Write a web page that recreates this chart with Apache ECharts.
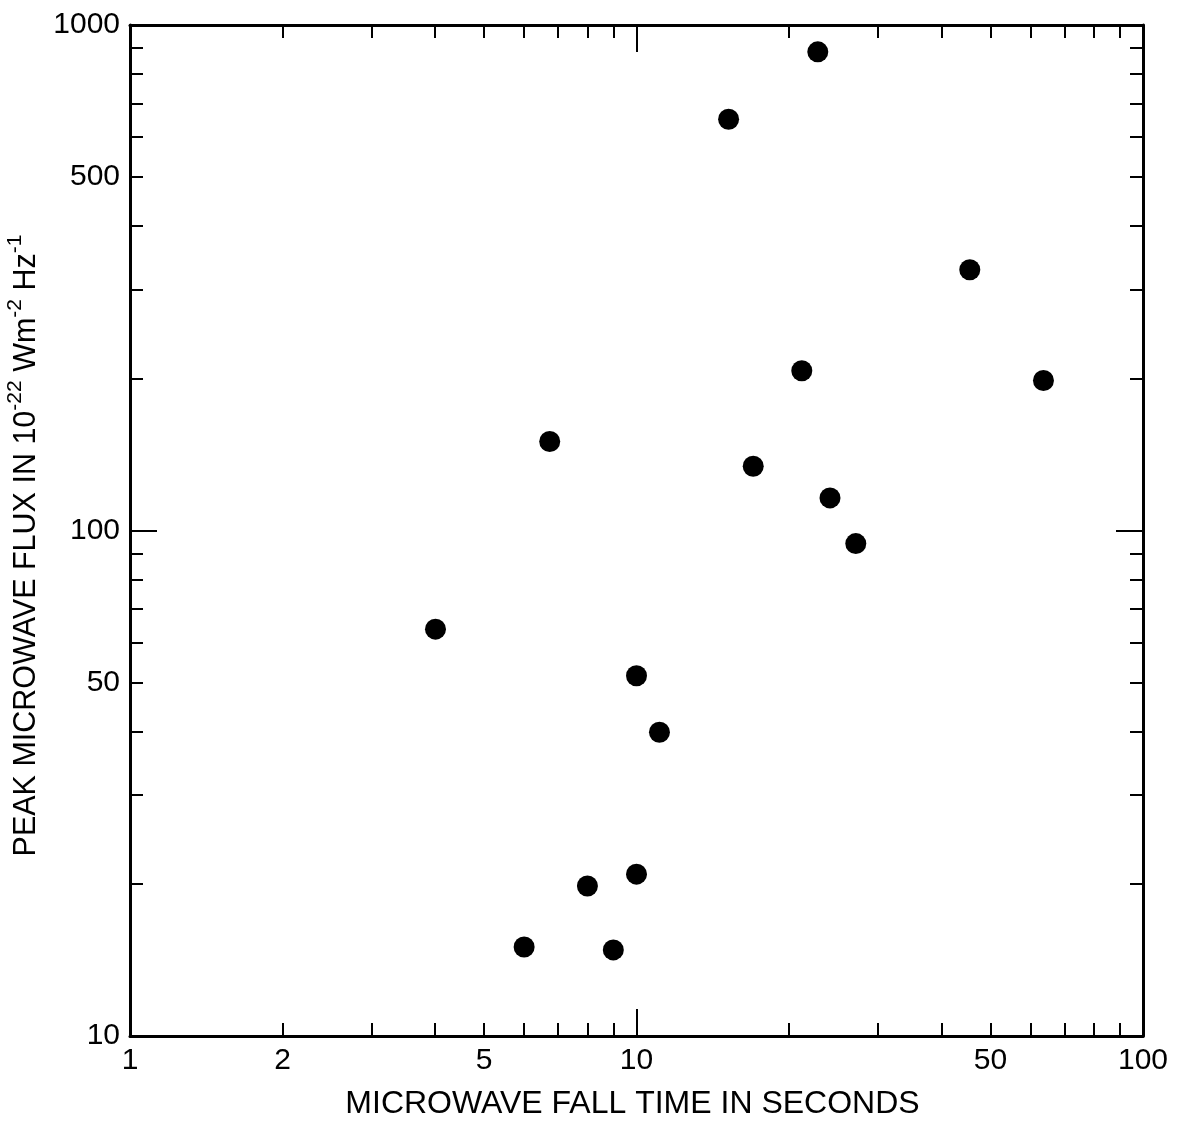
<!DOCTYPE html>
<html>
<head>
<meta charset="utf-8">
<title>Peak microwave flux vs. fall time</title>
<script src="https://cdn.jsdelivr.net/npm/echarts@6/dist/echarts.min.js"></script>
<style>
  html, body { margin: 0; padding: 0; background: #ffffff; }
  #chart { width: 1181px; height: 1123px; }
</style>
</head>
<body>
<div id="chart"></div>
<script>
// Microwave fall time (s) and peak microwave flux (10^-22 W m^-2 Hz^-1) per burst
const fallTime = [22.8, 15.2, 45.5, 21.2, 63.6, 6.74, 17.0, 24.1, 27.1, 4.01, 10.0, 11.1, 8.0, 10.0, 6.0, 9.0];
const peakFlux = [885, 651, 328, 207, 198, 150, 134, 116, 94.2, 63.8, 51.6, 39.9, 19.8, 20.9, 15.0, 14.8];

// Tick positions and labels on the two log axes
const xLabelValues = [1, 2, 5, 10, 50, 100];
const xMinorTickValues = [2, 3, 4, 5, 6, 7, 8, 9, 20, 30, 40, 50, 60, 70, 80, 90];
const xDecadeTickValues = [10];
const yLabelValues = [10, 50, 100, 500, 1000];
const yMinorTickValues = [20, 30, 40, 50, 60, 70, 80, 90, 200, 300, 400, 500, 600, 700, 800, 900];
const yDecadeTickValues = [100];

const FONT = '"Liberation Sans", Arial, Helvetica, sans-serif';
const INK = '#000000';

const points = fallTime.map((t, i) => [t, peakFlux[i]]);

function fmt(v) { return String(+Number(v).toPrecision(3)); }

function logAxis(opts) {
  const isX = opts.dim === 'x';
  return {
    type: 'log',
    logBase: 10,
    min: isX ? 1 : 10,
    max: isX ? 100 : 1000,
    position: opts.position,
    gridIndex: 0,
    splitLine: { show: false },
    minorTick: { show: false },
    minorSplitLine: { show: false },
    axisLine: { show: opts.line, onZero: false, lineStyle: { color: INK, width: 3 } },
    axisTick: {
      show: true,
      inside: true,
      length: opts.tickLength,
      customValues: opts.ticks,
      lineStyle: { color: INK, width: 2 }
    },
    axisLabel: opts.labels ? {
      show: true,
      customValues: opts.labels,
      formatter: fmt,
      color: INK,
      fontFamily: FONT,
      fontSize: 30,
      margin: 10,
      showMinLabel: true,
      showMaxLabel: true,
      hideOverlap: false
    } : { show: false },
    name: opts.name || '',
    nameLocation: 'middle',
    nameGap: opts.nameGap || 0,
    nameTextStyle: opts.nameTextStyle || {}
  };
}

const chart = echarts.init(document.getElementById('chart'), null, { renderer: 'canvas' });

chart.setOption({
  backgroundColor: '#ffffff',
  animation: false,
  grid: { left: 130, right: 38, top: 25, bottom: 87, containLabel: false, outerBoundsMode: 'none' },
  xAxis: [
    logAxis({
      dim: 'x', position: 'bottom', line: true, tickLength: 13,
      ticks: xMinorTickValues, labels: xLabelValues,
      name: 'MICROWAVE FALL TIME IN SECONDS',
      nameGap: 52,
      nameTextStyle: { color: INK, fontFamily: FONT, fontSize: 32, verticalAlign: 'top', padding: [0, 8, 0, 0] }
    }),
    logAxis({ dim: 'x', position: 'bottom', line: false, tickLength: 27, ticks: xDecadeTickValues }),
    logAxis({ dim: 'x', position: 'top', line: true, tickLength: 13, ticks: xMinorTickValues }),
    logAxis({ dim: 'x', position: 'top', line: false, tickLength: 27, ticks: xDecadeTickValues })
  ],
  yAxis: [
    logAxis({
      dim: 'y', position: 'left', line: true, tickLength: 13,
      ticks: yMinorTickValues, labels: yLabelValues,
      name: '{n|PEAK MICROWAVE FLUX IN 10}{s|-22}{n| Wm}{s|-2}{n| Hz}{s|-1}',
      nameGap: 88,
      nameTextStyle: {
        color: INK,
        padding: [0, 30, 0, 0],
        rich: {
          n: { fontFamily: FONT, fontSize: 30.5, color: INK, lineHeight: 37, verticalAlign: 'bottom' },
          s: { fontFamily: FONT, fontSize: 21, color: INK, lineHeight: 37, verticalAlign: 'top' }
        }
      }
    }),
    logAxis({ dim: 'y', position: 'left', line: false, tickLength: 27, ticks: yDecadeTickValues }),
    logAxis({ dim: 'y', position: 'right', line: true, tickLength: 13, ticks: yMinorTickValues }),
    logAxis({ dim: 'y', position: 'right', line: false, tickLength: 27, ticks: yDecadeTickValues })
  ],
  series: [{
    type: 'scatter',
    xAxisIndex: 0,
    yAxisIndex: 0,
    symbol: 'circle',
    symbolSize: 21,
    itemStyle: { color: INK, opacity: 1 },
    data: points
  }]
});
</script>
</body>
</html>
